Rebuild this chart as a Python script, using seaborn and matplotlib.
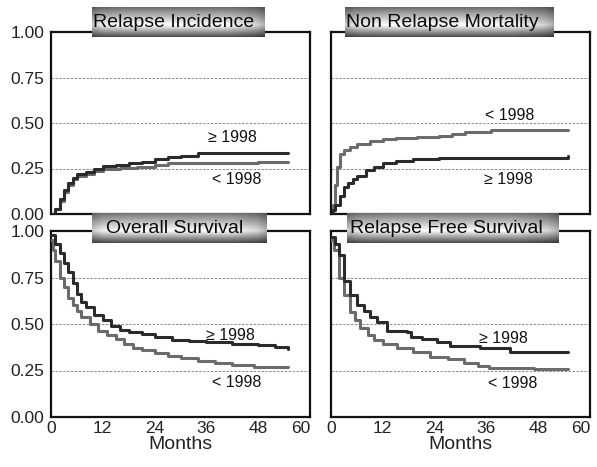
import numpy as np
import pandas as pd
import matplotlib.pyplot as plt
import seaborn as sns

# ---- data ----
ri_new_t = [0, 1, 2, 3, 4, 5, 6, 8, 10, 12, 15, 18, 21, 24, 27, 30, 34, 55]
ri_new_v = [0, 0.03, 0.08, 0.13, 0.17, 0.20, 0.22, 0.23, 0.25, 0.265, 0.27, 0.28, 0.285, 0.30, 0.315, 0.32, 0.335, 0.335]
ri_old_t = [0, 1, 2, 3, 4, 5, 6, 8, 10, 12, 16, 20, 24, 27, 30, 48, 55]
ri_old_v = [0, 0.03, 0.07, 0.12, 0.16, 0.19, 0.21, 0.22, 0.235, 0.25, 0.255, 0.26, 0.27, 0.28, 0.28, 0.285, 0.285]

nrm_old_t = [0, 0.5, 1, 1.5, 2, 3, 4.4, 6, 9, 12, 15, 20, 25, 28, 31, 37, 55]
nrm_old_v = [0, 0.05, 0.16, 0.26, 0.33, 0.35, 0.37, 0.385, 0.40, 0.41, 0.42, 0.425, 0.43, 0.44, 0.45, 0.46, 0.46]
nrm_new_t = [0, 0.5, 1, 2, 3, 4, 5, 6, 8, 10, 12, 15, 19, 25, 41, 55]
nrm_new_v = [0, 0.02, 0.05, 0.10, 0.15, 0.17, 0.19, 0.21, 0.24, 0.26, 0.28, 0.29, 0.30, 0.305, 0.31, 0.32]

os_new_t = [0, 1, 2, 3, 4, 5, 6, 7, 8, 10, 12, 14, 16, 18, 21, 24, 28, 32, 36, 42, 48, 52, 55]
os_new_v = [0.98, 0.93, 0.88, 0.83, 0.78, 0.72, 0.66, 0.62, 0.59, 0.55, 0.52, 0.49, 0.47, 0.455, 0.445, 0.43, 0.415, 0.41, 0.405, 0.395, 0.385, 0.375, 0.365]
os_old_t = [0, 0.5, 1, 2, 3, 4, 5, 6, 7, 9, 11, 13, 15, 17, 19, 21, 24, 27, 30, 34, 38, 42, 47, 55]
os_old_v = [0.95, 0.90, 0.84, 0.75, 0.70, 0.64, 0.60, 0.57, 0.54, 0.50, 0.465, 0.44, 0.42, 0.39, 0.37, 0.36, 0.345, 0.33, 0.315, 0.30, 0.29, 0.28, 0.27, 0.27]

rfs_new_t = [0, 1, 1.8, 2.9, 4.4, 6, 7.6, 9, 10.7, 13, 17.6, 18.5, 21, 24.6, 27.6, 34.6, 41.5, 55]
rfs_new_v = [0.97, 0.93, 0.87, 0.73, 0.655, 0.60, 0.57, 0.54, 0.51, 0.465, 0.455, 0.43, 0.42, 0.405, 0.38, 0.37, 0.35, 0.35]
rfs_old_t = [0, 0.6, 1.8, 2.9, 4.4, 5.5, 6.8, 8.5, 9.9, 12, 15.2, 19, 23, 27, 30.8, 34, 36.7, 47, 55]
rfs_old_v = [0.95, 0.90, 0.75, 0.655, 0.565, 0.52, 0.48, 0.44, 0.415, 0.39, 0.37, 0.35, 0.325, 0.31, 0.29, 0.275, 0.265, 0.26, 0.26]

titles = ["Relapse Incidence", "Non Relapse Mortality", "Overall Survival", "Relapse Free Survival"]
month_ticks = [0, 12, 24, 36, 48, 60]
y_ticks = [0, 0.25, 0.5, 0.75, 1.0]
y_ticklabels = ["0.00", "0.25", "0.50", "0.75", "1.00"]

# label positions (months, value) for the ">= 1998" and "< 1998" annotations
label_new = [(42, 0.42), (41, 0.19), (41.5, 0.44), (40, 0.42)]
label_old = [(43, 0.19), (41.5, 0.54), (43, 0.185), (42, 0.18)]

panels = [
    (ri_new_t, ri_new_v, ri_old_t, ri_old_v),
    (nrm_new_t, nrm_new_v, nrm_old_t, nrm_old_v),
    (os_new_t, os_new_v, os_old_t, os_old_v),
    (rfs_new_t, rfs_new_v, rfs_old_t, rfs_old_v),
]

sns.set_style("white")
plt.rcParams["font.family"] = ["Liberation Sans", "DejaVu Sans"]

W, H = 597, 467
fig = plt.figure(figsize=(W / 100, H / 100), dpi=100)

# axes boxes in pixels: left, top, right, bottom
ax_px = [(51, 32, 310, 214), (331, 32, 590, 214), (51, 231, 310, 417), (331, 231, 590, 417)]
box_px = [(92, 7, 265, 37), (345, 7, 553, 37), (92, 213, 267, 243), (347, 213, 559, 243)]

dark = "#2b2b2b"
light = "#6b6b6b"

for i, (l, t, r, b) in enumerate(ax_px):
    ax = fig.add_axes([l / W, 1 - b / H, (r - l) / W, (b - t) / H])
    tn, vn, to, vo = panels[i]
    df_new = pd.DataFrame({"Months": tn, "p": vn})
    df_old = pd.DataFrame({"Months": to, "p": vo})
    sns.lineplot(data=df_old, x="Months", y="p", ax=ax, color=light, lw=2.2,
                 drawstyle="steps-post", zorder=3)
    sns.lineplot(data=df_new, x="Months", y="p", ax=ax, color=dark, lw=2.2,
                 drawstyle="steps-post", zorder=4)

    ax.set_xlim(0, 60)
    ax.set_ylim(0, 1)
    ax.set_xticks(month_ticks)
    ax.set_yticks(y_ticks)
    for y in [0.25, 0.5, 0.75]:
        ax.axhline(y, color="#8a8a8a", lw=0.7, ls=(0, (2.5, 1.5)), zorder=1)
    for s in ax.spines.values():
        s.set_linewidth(1.6)
        s.set_color("#111111")
    ax.tick_params(axis="y", direction="out", length=4, width=1.6, labelsize=12.5,
                   pad=1, labelcolor="#222222")
    ax.tick_params(axis="x", direction="in", length=4, width=1.6, labelsize=12.5,
                   pad=3, labelcolor="#222222")
    if i % 2 == 0:
        ax.set_yticklabels(y_ticklabels)
    else:
        ax.set_yticklabels([])
    if i >= 2:
        ax.set_xticklabels([str(m) for m in month_ticks])
        ax.get_xticklabels()[-1].set_horizontalalignment("right")
        ax.set_xlabel("Months", fontsize=14, labelpad=0, color="#222222")
    else:
        ax.set_xticklabels([])
        ax.set_xlabel("")
    ax.set_ylabel("")

    ax.text(*label_new[i], "\u2265 1998", fontsize=11.5, ha="center", va="center", color="#111111")
    ax.text(*label_old[i], "< 1998", fontsize=11.5, ha="center", va="center", color="#111111")

# metallic title boxes
yy = np.linspace(0, 1, 60)[:, None]
xx = np.linspace(0, 1, 200)[None, :]
vert = np.interp(yy, [0, 0.15, 0.6, 1.0], [0.42, 0.58, 1.0, 0.30])
horiz = np.interp(xx, [0, 0.06, 0.2, 0.8, 0.95, 1.0], [0.8, 0.95, 1.0, 1.0, 0.85, 0.7])
grad = vert * horiz

for (l, t, r, b), title in zip(box_px, titles):
    bax = fig.add_axes([l / W, 1 - b / H, (r - l) / W, (b - t) / H])
    bax.imshow(grad, cmap="gray", vmin=0, vmax=1, aspect="auto", extent=[0, 1, 0, 1])
    bax.set_axis_off()
    bax.text(0.47, 0.47, title, fontsize=14, ha="center", va="center", color="#0a0a0a")

fig.savefig("out.png", dpi=100)
